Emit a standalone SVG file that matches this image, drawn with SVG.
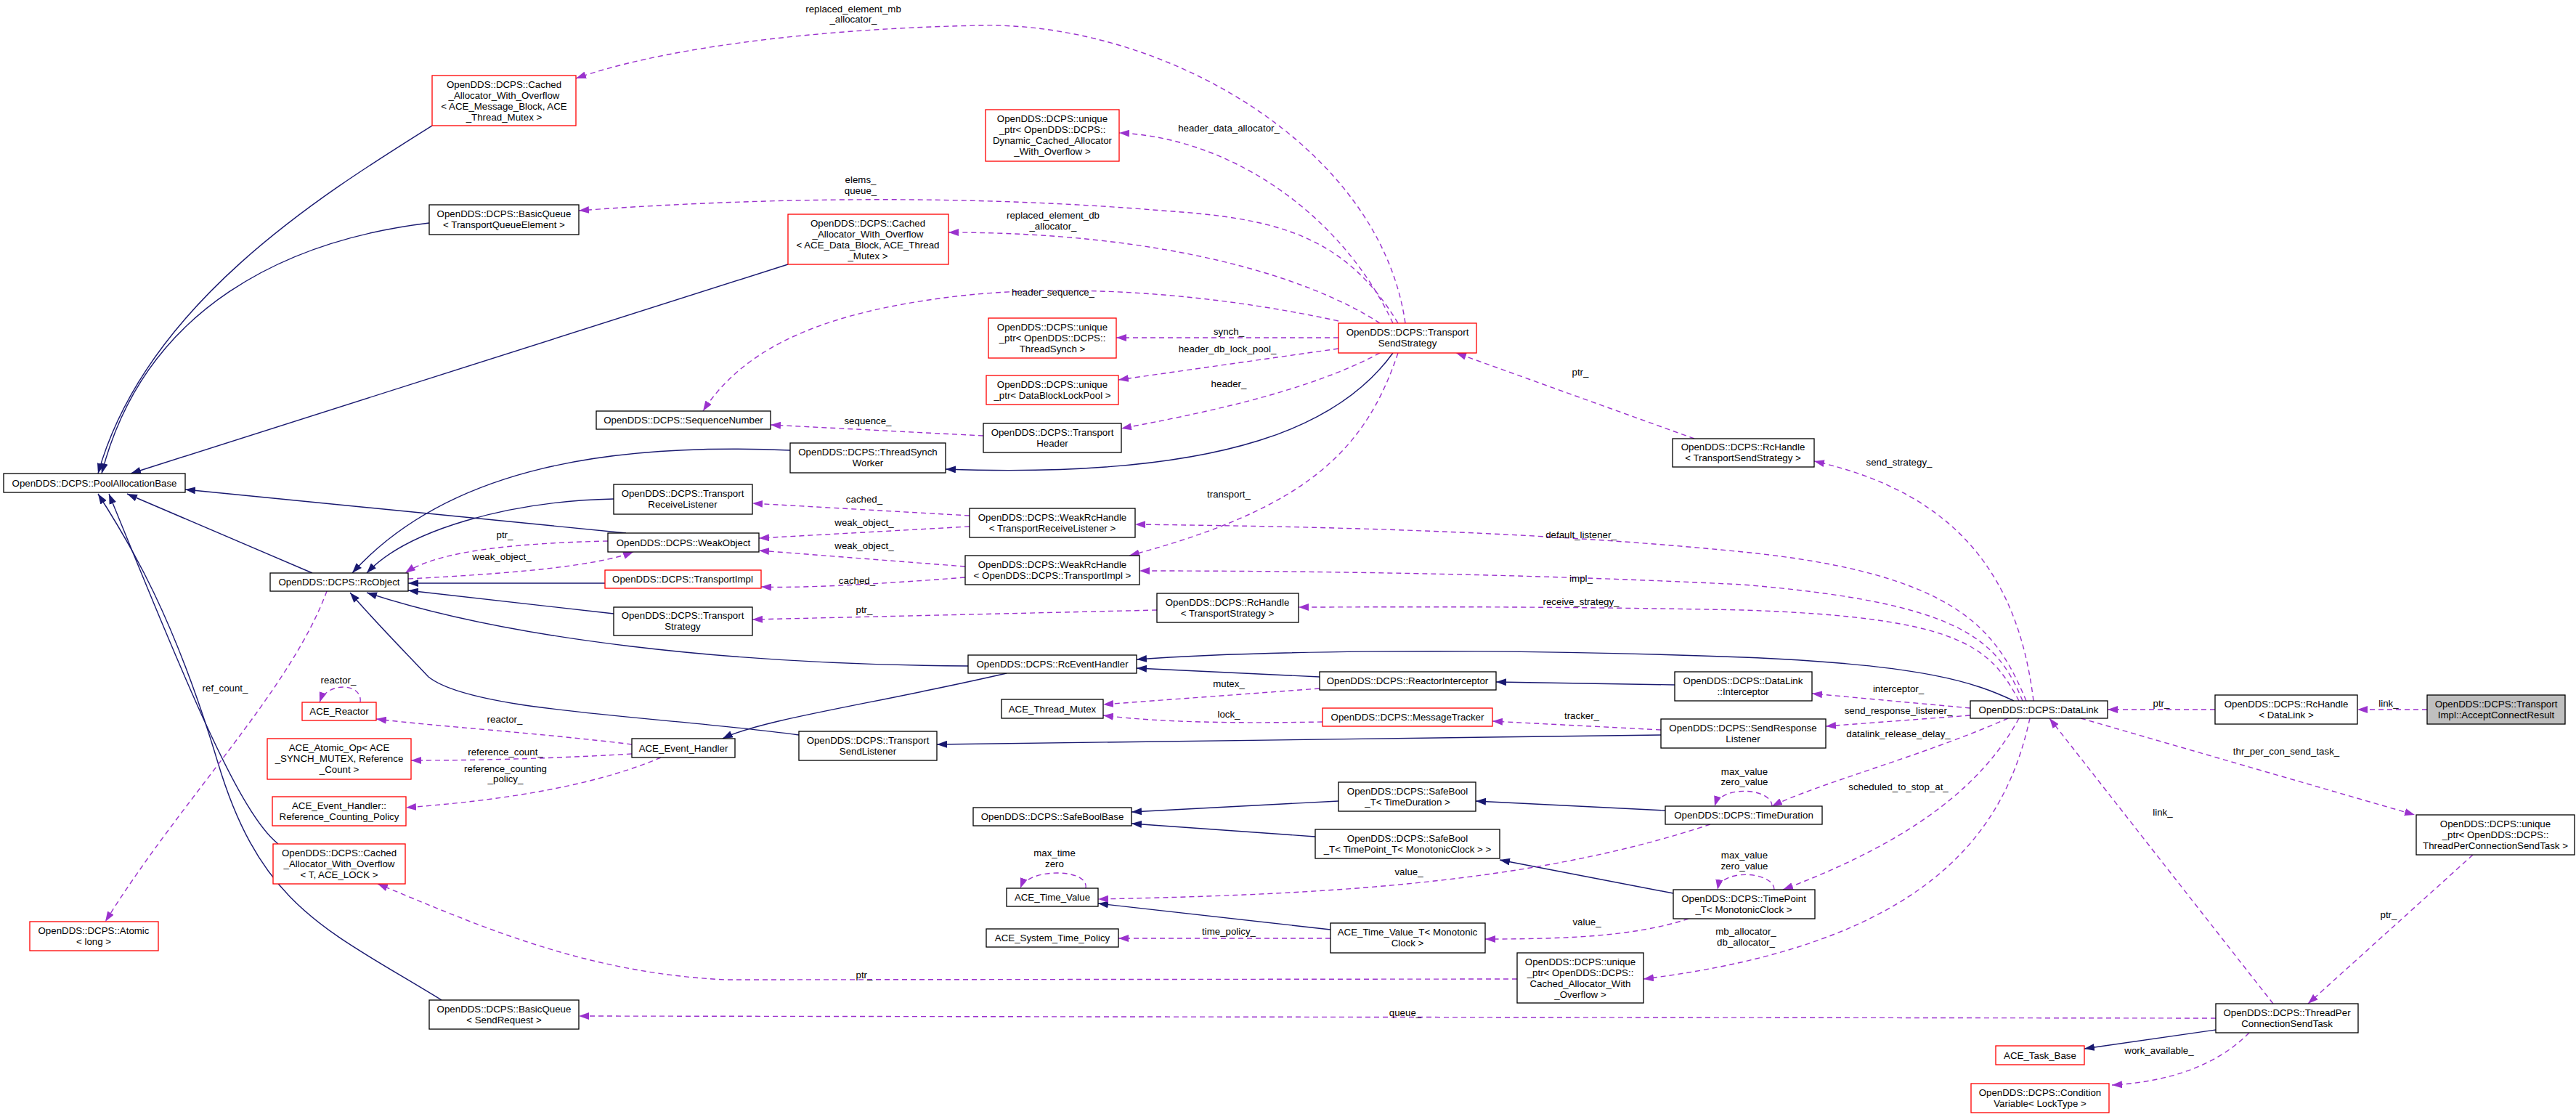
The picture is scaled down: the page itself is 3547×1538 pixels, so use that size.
<svg xmlns="http://www.w3.org/2000/svg" width="3547" height="1538" viewBox="0 0 3547 1538">
<style>
text{font-family:"Liberation Sans",Arial,sans-serif;font-size:13.3px;fill:#000;text-anchor:middle}
.n rect{fill:#fff;stroke:#000;stroke-width:1.3}
.n.r rect{stroke:#ff0000}
.n.g rect{fill:#bfbfbf}
.i{fill:none;stroke:#191970;stroke-width:1.4;marker-end:url(#mi)}
.u{fill:none;stroke:#9a32cd;stroke-width:1.4;stroke-dasharray:7,5;marker-end:url(#mu)}
</style>
<defs>
<marker id="mi" markerUnits="userSpaceOnUse" markerWidth="14" markerHeight="10" refX="14" refY="5" orient="auto"><path d="M0,0 L14,5 L0,10 z" fill="#191970"/></marker>
<marker id="mu" markerUnits="userSpaceOnUse" markerWidth="14" markerHeight="10" refX="14" refY="5" orient="auto"><path d="M0,0 L14,5 L0,10 z" fill="#9a32cd"/></marker>
</defs>
<rect width="3547" height="1538" fill="#fff"/>
<g id="edges">
<path class="i" d="M595,173 C440,270 200,420 135,652"/>
<path class="i" d="M591,307 C400,330 200,420 140,652"/>
<path class="i" d="M1085,364 L180,652"/>
<path class="i" d="M1088,620 C850,610 620,640 485,789"/>
<path class="i" d="M845,687 C700,690 560,730 505,789"/>
<path class="i" d="M862,734 L255,674"/>
<path class="i" d="M430,789 L175,680"/>
<path class="i" d="M608,1377 C450,1280 360,1250 300,1050 C240,850 180,750 135,680"/>
<path class="i" d="M383,1162 C330,1120 260,950 150,680"/>
<path class="i" d="M833,803 L562,803"/>
<path class="i" d="M845,845 L562,813"/>
<path class="i" d="M1333,917 C1000,915 700,880 505,816"/>
<path class="i" d="M1100,1012 C900,985 650,980 590,932 C560,900 520,860 482,816"/>
<path class="i" d="M1386,927 C1200,970 1050,990 995,1017"/>
<path class="i" d="M1817,932 L1565,920"/>
<path class="i" d="M2773,965 C2720,940 2650,915 2400,905 C2000,890 1700,898 1565,908"/>
<path class="i" d="M2306,943 L2060,939"/>
<path class="i" d="M2287,1012 L1290,1025"/>
<path class="i" d="M1843,1103 L1558,1118"/>
<path class="i" d="M1811,1152 L1558,1134"/>
<path class="i" d="M2293,1116 L2032,1103"/>
<path class="i" d="M2304,1230 L2065,1184"/>
<path class="i" d="M1832,1280 L1512,1244"/>
<path class="i" d="M1918,486 C1850,580 1700,660 1302,646"/>
<path class="i" d="M3051,1418 L2870,1444"/>

<path class="u" d="M1935,445 C1900,200 1600,30 1350,35 C1100,40 900,70 793,108"/>
<path class="u" d="M1918,445 C1850,300 1700,190 1541,183"/>
<path class="u" d="M1925,445 C1850,320 1750,300 1600,290 C1300,265 1000,275 797,290"/>
<path class="u" d="M1900,445 C1800,380 1600,320 1306,320"/>
<path class="u" d="M1843,442 C1650,400 1450,390 1300,410 C1150,430 1030,470 968,566"/>
<path class="u" d="M1843,465 L1537,465"/>
<path class="u" d="M1843,480 L1540,523"/>
<path class="u" d="M1900,486 C1800,540 1650,570 1544,590"/>
<path class="u" d="M1925,486 C1880,620 1800,700 1555,765"/>
<path class="u" d="M1354,600 L1061,585"/>
<path class="u" d="M1335,710 L1036,693"/>
<path class="u" d="M1335,725 L1045,741"/>
<path class="u" d="M1329,780 L1045,758"/>
<path class="u" d="M837,745 C700,748 600,760 558,789"/>
<path class="u" d="M562,797 C700,790 820,780 872,760"/>
<path class="u" d="M1329,795 C1200,805 1100,810 1048,808"/>
<path class="u" d="M1593,840 L1036,853"/>
<path class="u" d="M450,814 C400,950 250,1100 145,1269"/>
<path class="u" d="M496,967 C500,940 450,938 440,967"/>
<path class="u" d="M870,1025 C750,1010 600,1000 518,990"/>
<path class="u" d="M870,1038 C750,1045 650,1047 566,1047"/>
<path class="u" d="M910,1043 C800,1090 650,1105 559,1112"/>
<path class="u" d="M2089,1348 L1000,1349 C800,1340 650,1270 520,1217"/>
<path class="u" d="M3051,1402 L797,1399"/>
<path class="u" d="M2355,1135 C2100,1220 1800,1232 1512,1238"/>
<path class="u" d="M1495,1223 C1500,1195 1415,1195 1405,1223"/>
<path class="u" d="M1832,1292 L1540,1292"/>
<path class="u" d="M2325,1265 C2250,1290 2150,1293 2045,1293"/>
<path class="u" d="M2440,1110 C2440,1085 2370,1080 2361,1110"/>
<path class="u" d="M2443,1225 C2443,1200 2370,1195 2365,1225"/>
<path class="u" d="M2800,965 C2780,800 2700,680 2498,635"/>
<path class="u" d="M2790,965 C2750,870 2700,790 2400,760 C2100,730 1800,725 1563,722"/>
<path class="u" d="M2785,965 C2750,880 2700,830 2400,805 C2100,790 1800,786 1569,786"/>
<path class="u" d="M2780,965 C2740,890 2700,850 2400,840 C2100,834 1900,836 1788,836"/>
<path class="u" d="M2713,975 L2495,955"/>
<path class="u" d="M2713,985 L2514,1000"/>
<path class="u" d="M2765,989 C2650,1040 2500,1080 2440,1110"/>
<path class="u" d="M2780,989 C2720,1100 2600,1170 2455,1225"/>
<path class="u" d="M2795,989 C2760,1150 2650,1300 2263,1348"/>
<path class="u" d="M2287,1005 L2055,993"/>
<path class="u" d="M1817,948 L1519,970"/>
<path class="u" d="M1821,994 C1700,996 1600,995 1519,985"/>
<path class="u" d="M3050,977 L2902,977"/>
<path class="u" d="M3342,977 L3246,977"/>
<path class="u" d="M2865,989 L3325,1122"/>
<path class="u" d="M3130,1382 L2822,989"/>
<path class="u" d="M3405,1177 L3178,1382"/>
<path class="u" d="M3097,1422 C3050,1470 2980,1490 2908,1494"/>
<path class="u" d="M2333,604 L2005,486"/>
<g id="edge-labels">
<text x="1175" y="17">replaced_element_mb</text><text x="1175" y="31">_allocator_</text>
<text x="1692" y="181">header_data_allocator_</text>
<text x="1185" y="252">elems_</text><text x="1185" y="267">queue_</text>
<text x="1450" y="301">replaced_element_db</text><text x="1450" y="316">_allocator_</text>
<text x="1450" y="407">header_sequence_</text>
<text x="1692" y="461">synch_</text>
<text x="1690" y="485">header_db_lock_pool_</text>
<text x="1692" y="533">header_</text>
<text x="2176" y="517">ptr_</text>
<text x="1692" y="685">transport_</text>
<text x="1195" y="584">sequence_</text>
<text x="1190" y="692">cached_</text>
<text x="1190" y="724">weak_object_</text>
<text x="1190" y="756">weak_object_</text>
<text x="695" y="741">ptr_</text>
<text x="691" y="771">weak_object_</text>
<text x="1180" y="804">cached_</text>
<text x="1190" y="844">ptr_</text>
<text x="310" y="952">ref_count_</text>
<text x="466" y="941">reactor_</text>
<text x="695" y="995">reactor_</text>
<text x="696" y="1040">reference_count_</text>
<text x="696" y="1063">reference_counting</text><text x="696" y="1077">_policy_</text>
<text x="1190" y="1347">ptr_</text>
<text x="1935" y="1399">queue_</text>
<text x="1940" y="1205">value_</text>
<text x="1452" y="1179">max_time</text><text x="1452" y="1194">zero</text>
<text x="1692" y="1287">time_policy_</text>
<text x="2185" y="1274">value_</text>
<text x="2402" y="1067">max_value</text><text x="2402" y="1081">zero_value</text>
<text x="2402" y="1182">max_value</text><text x="2402" y="1197">zero_value</text>
<text x="2615" y="641">send_strategy_</text>
<text x="2177" y="741">default_listener_</text>
<text x="2177" y="801">impl_</text>
<text x="2177" y="833">receive_strategy_</text>
<text x="2614" y="953">interceptor_</text>
<text x="2614" y="983">send_response_listener_</text>
<text x="2614" y="1015">datalink_release_delay_</text>
<text x="2614" y="1088">scheduled_to_stop_at_</text>
<text x="2404" y="1287">mb_allocator_</text><text x="2404" y="1302">db_allocator_</text>
<text x="2178" y="990">tracker_</text>
<text x="1692" y="946">mutex_</text>
<text x="1692" y="988">lock_</text>
<text x="2976" y="973">ptr_</text>
<text x="3289" y="973">link_</text>
<text x="3148" y="1039">thr_per_con_send_task_</text>
<text x="2978" y="1123">link_</text>
<text x="3289" y="1264">ptr_</text>
<text x="2973" y="1451">work_available_</text>
</g>
</g>
<g id="n1" class="n"><rect x="5" y="652" width="250" height="26"/><text x="130" y="670">OpenDDS::DCPS::PoolAllocationBase</text></g>
<g id="n2" class="n r"><rect x="595" y="104" width="198" height="69"/><text x="694" y="121">OpenDDS::DCPS::Cached</text><text x="694" y="136">_Allocator_With_Overflow</text><text x="694" y="151">&lt; ACE_Message_Block, ACE</text><text x="694" y="166">_Thread_Mutex &gt;</text></g>
<g id="n3" class="n"><rect x="591" y="282" width="206" height="41"/><text x="694" y="299">OpenDDS::DCPS::BasicQueue</text><text x="694" y="314">&lt; TransportQueueElement &gt;</text></g>
<g id="n4" class="n r"><rect x="1085" y="295" width="221" height="69"/><text x="1195" y="312">OpenDDS::DCPS::Cached</text><text x="1195" y="327">_Allocator_With_Overflow</text><text x="1195" y="342">&lt; ACE_Data_Block, ACE_Thread</text><text x="1195" y="357">_Mutex &gt;</text></g>
<g id="n5" class="n r"><rect x="1357" y="151" width="184" height="71"/><text x="1449" y="168">OpenDDS::DCPS::unique</text><text x="1449" y="183">_ptr&lt; OpenDDS::DCPS::</text><text x="1449" y="198">Dynamic_Cached_Allocator</text><text x="1449" y="213">_With_Overflow &gt;</text></g>
<g id="n6" class="n r"><rect x="1843" y="445" width="190" height="41"/><text x="1938" y="462">OpenDDS::DCPS::Transport</text><text x="1938" y="477">SendStrategy</text></g>
<g id="n7" class="n r"><rect x="1361" y="438" width="176" height="55"/><text x="1449" y="455">OpenDDS::DCPS::unique</text><text x="1449" y="470">_ptr&lt; OpenDDS::DCPS::</text><text x="1449" y="485">ThreadSynch &gt;</text></g>
<g id="n8" class="n r"><rect x="1358" y="517" width="182" height="40"/><text x="1449" y="534">OpenDDS::DCPS::unique</text><text x="1449" y="549">_ptr&lt; DataBlockLockPool &gt;</text></g>
<g id="n9" class="n"><rect x="1354" y="583" width="190" height="40"/><text x="1449" y="600">OpenDDS::DCPS::Transport</text><text x="1449" y="615">Header</text></g>
<g id="n10" class="n"><rect x="821" y="566" width="240" height="25"/><text x="941" y="583">OpenDDS::DCPS::SequenceNumber</text></g>
<g id="n11" class="n"><rect x="1088" y="610" width="214" height="41"/><text x="1195" y="627">OpenDDS::DCPS::ThreadSynch</text><text x="1195" y="642">Worker</text></g>
<g id="n12" class="n"><rect x="2303" y="604" width="195" height="39"/><text x="2400" y="620">OpenDDS::DCPS::RcHandle</text><text x="2400" y="635">&lt; TransportSendStrategy &gt;</text></g>
<g id="n13" class="n"><rect x="845" y="667" width="191" height="41"/><text x="940" y="684">OpenDDS::DCPS::Transport</text><text x="940" y="699">ReceiveListener</text></g>
<g id="n14" class="n"><rect x="1335" y="700" width="228" height="40"/><text x="1449" y="717">OpenDDS::DCPS::WeakRcHandle</text><text x="1449" y="732">&lt; TransportReceiveListener &gt;</text></g>
<g id="n15" class="n"><rect x="837" y="734" width="208" height="26"/><text x="941" y="752">OpenDDS::DCPS::WeakObject</text></g>
<g id="n16" class="n"><rect x="1329" y="765" width="240" height="40"/><text x="1449" y="782">OpenDDS::DCPS::WeakRcHandle</text><text x="1449" y="797">&lt; OpenDDS::DCPS::TransportImpl &gt;</text></g>
<g id="n17" class="n"><rect x="372" y="789" width="190" height="25"/><text x="467" y="806">OpenDDS::DCPS::RcObject</text></g>
<g id="n18" class="n r"><rect x="833" y="785" width="215" height="25"/><text x="940" y="802">OpenDDS::DCPS::TransportImpl</text></g>
<g id="n19" class="n"><rect x="845" y="836" width="191" height="39"/><text x="940" y="852">OpenDDS::DCPS::Transport</text><text x="940" y="867">Strategy</text></g>
<g id="n20" class="n"><rect x="1593" y="817" width="195" height="40"/><text x="1690" y="834">OpenDDS::DCPS::RcHandle</text><text x="1690" y="849">&lt; TransportStrategy &gt;</text></g>
<g id="n21" class="n"><rect x="1333" y="902" width="232" height="25"/><text x="1449" y="919">OpenDDS::DCPS::RcEventHandler</text></g>
<g id="n22" class="n"><rect x="1817" y="925" width="243" height="25"/><text x="1938" y="942">OpenDDS::DCPS::ReactorInterceptor</text></g>
<g id="n23" class="n"><rect x="2306" y="925" width="189" height="40"/><text x="2400" y="942">OpenDDS::DCPS::DataLink</text><text x="2400" y="957">::Interceptor</text></g>
<g id="n24" class="n"><rect x="1379" y="963" width="140" height="26"/><text x="1449" y="981">ACE_Thread_Mutex</text></g>
<g id="n25" class="n r"><rect x="1821" y="975" width="234" height="25"/><text x="1938" y="992">OpenDDS::DCPS::MessageTracker</text></g>
<g id="n26" class="n"><rect x="2287" y="990" width="227" height="40"/><text x="2400" y="1007">OpenDDS::DCPS::SendResponse</text><text x="2400" y="1022">Listener</text></g>
<g id="n27" class="n"><rect x="2713" y="965" width="189" height="24"/><text x="2807" y="982">OpenDDS::DCPS::DataLink</text></g>
<g id="n28" class="n"><rect x="3050" y="957" width="196" height="40"/><text x="3148" y="974">OpenDDS::DCPS::RcHandle</text><text x="3148" y="989">&lt; DataLink &gt;</text></g>
<g id="n29" class="n g"><rect x="3342" y="957" width="190" height="40"/><text x="3437" y="974">OpenDDS::DCPS::Transport</text><text x="3437" y="989">Impl::AcceptConnectResult</text></g>
<g id="n30" class="n r"><rect x="416" y="967" width="102" height="25"/><text x="467" y="984">ACE_Reactor</text></g>
<g id="n31" class="n"><rect x="870" y="1017" width="142" height="26"/><text x="941" y="1035">ACE_Event_Handler</text></g>
<g id="n32" class="n"><rect x="1100" y="1007" width="190" height="40"/><text x="1195" y="1024">OpenDDS::DCPS::Transport</text><text x="1195" y="1039">SendListener</text></g>
<g id="n33" class="n r"><rect x="368" y="1017" width="198" height="56"/><text x="467" y="1034">ACE_Atomic_Op&lt; ACE</text><text x="467" y="1049">_SYNCH_MUTEX, Reference</text><text x="467" y="1064">_Count &gt;</text></g>
<g id="n34" class="n r"><rect x="375" y="1097" width="184" height="40"/><text x="467" y="1114">ACE_Event_Handler::</text><text x="467" y="1129">Reference_Counting_Policy</text></g>
<g id="n35" class="n"><rect x="1843" y="1077" width="189" height="40"/><text x="1938" y="1094">OpenDDS::DCPS::SafeBool</text><text x="1938" y="1109">_T&lt; TimeDuration &gt;</text></g>
<g id="n36" class="n"><rect x="1340" y="1112" width="218" height="25"/><text x="1449" y="1129">OpenDDS::DCPS::SafeBoolBase</text></g>
<g id="n37" class="n"><rect x="1811" y="1142" width="254" height="40"/><text x="1938" y="1159">OpenDDS::DCPS::SafeBool</text><text x="1938" y="1174">_T&lt; TimePoint_T&lt; MonotonicClock &gt; &gt;</text></g>
<g id="n38" class="n"><rect x="2293" y="1110" width="216" height="25"/><text x="2401" y="1127">OpenDDS::DCPS::TimeDuration</text></g>
<g id="n39" class="n"><rect x="3327" y="1122" width="218" height="55"/><text x="3436" y="1139">OpenDDS::DCPS::unique</text><text x="3436" y="1154">_ptr&lt; OpenDDS::DCPS::</text><text x="3436" y="1169">ThreadPerConnectionSendTask &gt;</text></g>
<g id="n40" class="n r"><rect x="376" y="1162" width="182" height="55"/><text x="467" y="1179">OpenDDS::DCPS::Cached</text><text x="467" y="1194">_Allocator_With_Overflow</text><text x="467" y="1209">&lt; T, ACE_LOCK &gt;</text></g>
<g id="n41" class="n"><rect x="1386" y="1223" width="126" height="25"/><text x="1449" y="1240">ACE_Time_Value</text></g>
<g id="n42" class="n"><rect x="2304" y="1225" width="195" height="40"/><text x="2401" y="1242">OpenDDS::DCPS::TimePoint</text><text x="2401" y="1257">_T&lt; MonotonicClock &gt;</text></g>
<g id="n43" class="n r"><rect x="41" y="1269" width="177" height="40"/><text x="129" y="1286">OpenDDS::DCPS::Atomic</text><text x="129" y="1301">&lt; long &gt;</text></g>
<g id="n44" class="n"><rect x="1832" y="1271" width="213" height="41"/><text x="1938" y="1288">ACE_Time_Value_T&lt; Monotonic</text><text x="1938" y="1303">Clock &gt;</text></g>
<g id="n45" class="n"><rect x="1358" y="1279" width="182" height="25"/><text x="1449" y="1296">ACE_System_Time_Policy</text></g>
<g id="n46" class="n"><rect x="2089" y="1312" width="174" height="69"/><text x="2176" y="1329">OpenDDS::DCPS::unique</text><text x="2176" y="1344">_ptr&lt; OpenDDS::DCPS::</text><text x="2176" y="1359">Cached_Allocator_With</text><text x="2176" y="1374">_Overflow &gt;</text></g>
<g id="n47" class="n"><rect x="591" y="1377" width="206" height="40"/><text x="694" y="1394">OpenDDS::DCPS::BasicQueue</text><text x="694" y="1409">&lt; SendRequest &gt;</text></g>
<g id="n48" class="n"><rect x="3051" y="1382" width="196" height="40"/><text x="3149" y="1399">OpenDDS::DCPS::ThreadPer</text><text x="3149" y="1414">ConnectionSendTask</text></g>
<g id="n49" class="n r"><rect x="2748" y="1440" width="122" height="26"/><text x="2809" y="1458">ACE_Task_Base</text></g>
<g id="n50" class="n r"><rect x="2714" y="1492" width="190" height="40"/><text x="2809" y="1509">OpenDDS::DCPS::Condition</text><text x="2809" y="1524">Variable&lt; LockType &gt;</text></g>
</svg>
